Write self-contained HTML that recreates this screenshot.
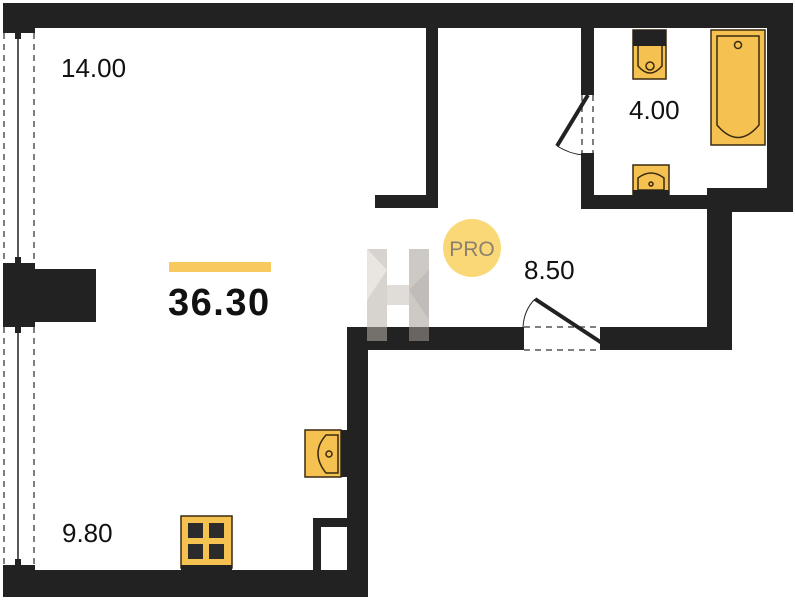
<!DOCTYPE html>
<html><head><style>
body{margin:0;background:#fff;width:795px;height:600px;overflow:hidden;position:relative;font-family:"Liberation Sans",sans-serif}
</style></head><body>
<svg width="795" height="600" viewBox="0 0 795 600" xmlns="http://www.w3.org/2000/svg" style="position:absolute;left:0;top:0">
<g fill="#222">
<rect x="3" y="3" width="790" height="25"/>
<rect x="767" y="3" width="26" height="209"/>
<rect x="707" y="188" width="86" height="24"/>
<rect x="581" y="195" width="130" height="14"/>
<rect x="581" y="28" width="13" height="64"/>
<rect x="581" y="158" width="13" height="50"/>
<rect x="426" y="28" width="12" height="180"/>
<rect x="375" y="195" width="63" height="13"/>
<rect x="707" y="188" width="25" height="162"/>
<rect x="605" y="327" width="127" height="23"/>
<rect x="347" y="327" width="174" height="23"/>
<rect x="347" y="327" width="21" height="270"/>
<rect x="3" y="570" width="365" height="27"/>
<rect x="3" y="269" width="93" height="53"/>
<rect x="3" y="28" width="32" height="5"/>
<rect x="3" y="263" width="32" height="6"/>
<rect x="3" y="322" width="32" height="5"/>
<rect x="3" y="565" width="32" height="5"/>
<rect x="313" y="518" width="34" height="9"/>
<rect x="313" y="518" width="8" height="52"/>
<rect x="15" y="33" width="6" height="6"/><rect x="15" y="257" width="6" height="6"/>
<rect x="15" y="327" width="6" height="6"/><rect x="15" y="559" width="6" height="6"/>
<rect x="519" y="327" width="5" height="23"/><rect x="600" y="327" width="5" height="23"/>
<rect x="581" y="90" width="13" height="5"/><rect x="581" y="153" width="13" height="5"/>
</g>
<g stroke="#555" stroke-dasharray="6,5" stroke-width="1.5" fill="none">
<line x1="4" y1="33" x2="4" y2="263"/><line x1="34" y1="33" x2="34" y2="263"/>
<line x1="4" y1="327" x2="4" y2="565"/><line x1="34" y1="327" x2="34" y2="565"/>
<line x1="524" y1="327" x2="600" y2="327"/><line x1="524" y1="350" x2="600" y2="350"/>
<line x1="582" y1="95" x2="582" y2="153"/><line x1="593" y1="95" x2="593" y2="153"/>
</g>
<g stroke="#222" stroke-width="1.5">
<line x1="18" y1="39" x2="18" y2="257"/><line x1="18" y1="333" x2="18" y2="559"/>
</g>
<line x1="535" y1="299" x2="602" y2="343" stroke="#222" stroke-width="4"/>
<path d="M535 299 Q524 310 523 327" stroke="#222" fill="none"/>
<line x1="588" y1="95" x2="557" y2="146" stroke="#222" stroke-width="4"/>
<path d="M557 146 Q570 154 583 155" stroke="#222" fill="none"/>
<g stroke="#3a2a10" stroke-width="1.5">
<rect x="711" y="30" width="54" height="115" fill="#f5c150"/>
<path d="M717 36 H759 V125 Q738 150 717 125 Z" fill="none"/>
<circle cx="738" cy="45" r="3.5" fill="none"/>
<rect x="633" y="30" width="33" height="49" fill="#f5c150"/>
<path d="M638 46 V66 Q650 80 662 66 V46" fill="none"/>
<circle cx="650" cy="66" r="4" fill="none"/>
<rect x="633" y="165" width="36" height="30" fill="#f5c150"/>
<path d="M638 190 V178 Q651 168 664 178 V190 Z" fill="none"/>
<circle cx="651" cy="184" r="2" fill="none"/>
<rect x="305" y="430" width="36" height="47" fill="#f5c150"/>
<path d="M338 435 H326 Q310 453 326 473 H338 Z" fill="none"/>
<circle cx="329" cy="454" r="3" fill="none"/>
<rect x="181" y="516" width="51" height="52" fill="#f5c150"/>
</g>
<rect x="633" y="30" width="33" height="16" fill="#222"/>
<rect x="633" y="190" width="36" height="6" fill="#222"/>
<rect x="341" y="430" width="6" height="47" fill="#222"/>
<rect x="181" y="565" width="51" height="5" fill="#222"/>
<g fill="#2b2b2b">
<rect x="188" y="523" width="15" height="15"/><rect x="209" y="523" width="15" height="15"/>
<rect x="188" y="544" width="15" height="15"/><rect x="209" y="544" width="15" height="15"/>
</g>
<g opacity="0.55">
<rect x="367" y="249" width="20" height="92" fill="#b8b0a8"/>
<rect x="409" y="249" width="20" height="92" fill="#a59d95"/>
<rect x="387" y="285" width="22" height="20" fill="#c8c0b8"/>
<polygon points="367,249 387,270 367,300" fill="#d8d2cc"/>
<polygon points="409,290 429,270 429,320" fill="#8f8780"/>
</g>
<circle cx="472" cy="248" r="29" fill="#fbd877"/>
<text x="472" y="256" font-size="21" fill="#8a8070" text-anchor="middle" font-family="Liberation Sans">PRO</text>
<rect x="169" y="262" width="102" height="10" fill="#f7c95e"/>
<g font-family="Liberation Sans" fill="#111">
<text x="61" y="77" font-size="26">14.00</text>
<text x="168" y="315" font-size="38" font-weight="bold" letter-spacing="1.5">36.30</text>
<text x="629" y="119" font-size="26">4.00</text>
<text x="524" y="279" font-size="26">8.50</text>
<text x="62" y="542" font-size="26">9.80</text>
</g>
</svg>
</body></html>
